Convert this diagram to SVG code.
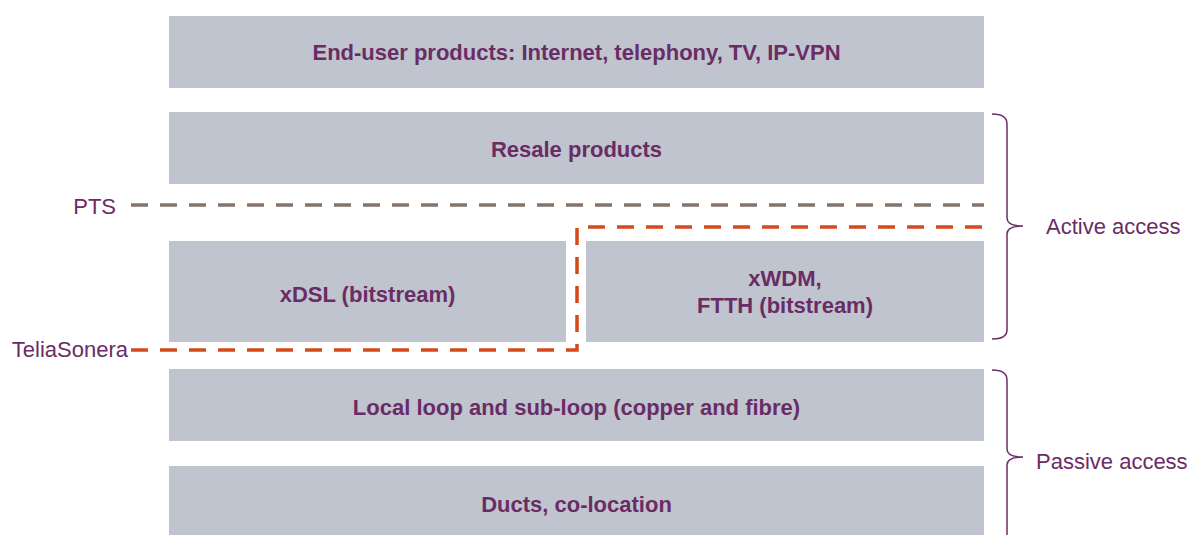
<svg xmlns="http://www.w3.org/2000/svg" width="1189" height="535" viewBox="0 0 1189 535">
<style>
.box{fill:#BFC4CF}
.lbl{font-family:"Liberation Sans",Arial,sans-serif;font-weight:bold;font-size:22px;fill:#6A2C64;text-anchor:middle}
.side{font-family:"Liberation Sans",Arial,sans-serif;font-size:22px;fill:#6A2C64}
.brace{fill:none;stroke:#6A2C64;stroke-width:1.5}
</style>
<rect width="1189" height="535" fill="#fff"/>
<g id="end-user"><rect class="box" x="169" y="16" width="815" height="72"/><text class="lbl" x="576.5" y="60">End-user products: Internet, telephony, TV, IP-VPN</text></g>
<g id="resale"><rect class="box" x="169" y="112" width="815" height="72"/><text class="lbl" x="576.5" y="157">Resale products</text></g>
<g id="xdsl"><rect class="box" x="169" y="241" width="397" height="101"/><text class="lbl" x="367.5" y="302">xDSL (bitstream)</text></g>
<g id="xwdm"><rect class="box" x="586" y="241" width="398" height="101"/><text class="lbl" x="785" y="286">xWDM,</text><text class="lbl" x="785" y="313">FTTH (bitstream)</text></g>
<g id="local-loop"><rect class="box" x="169" y="369" width="815" height="72"/><text class="lbl" x="576.5" y="415">Local loop and sub-loop (copper and fibre)</text></g>
<g id="ducts"><rect class="box" x="169" y="466" width="815" height="69"/><text class="lbl" x="576.5" y="512">Ducts, co-location</text></g>
<g id="pts-label"><text class="side" x="116" y="214" text-anchor="end">PTS</text></g>
<g id="telia-label"><text class="side" x="128" y="357" text-anchor="end">TeliaSonera</text></g>
<g id="active"><path class="brace" d="M992,114 Q1007,114 1007,124 L1007,218 Q1007,226 1023,226 Q1007,226 1007,234 L1007,330 Q1007,339 992,339"/><text class="side" x="1046" y="234">Active access</text></g>
<g id="passive"><path class="brace" d="M992,370 Q1007,370 1007,380 L1007,449 Q1007,457 1023,457 Q1007,457 1007,465 L1007,535"/><text class="side" x="1036" y="469">Passive access</text></g>
<g id="connectors">
<path d="M131,205 L984,205" fill="none" stroke="#857469" stroke-width="3.5" stroke-dasharray="17 12"/>
<path d="M131,350 L577,350 L577,227 L984,227" fill="none" stroke="#D5491B" stroke-width="3.5" stroke-dasharray="17 12"/>
</g>
</svg>
